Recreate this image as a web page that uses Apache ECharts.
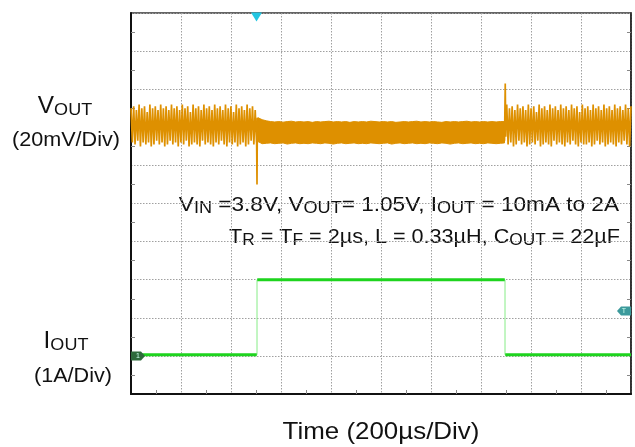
<!DOCTYPE html>
<html>
<head>
<meta charset="utf-8">
<script src="https://cdn.jsdelivr.net/npm/echarts@6/dist/echarts.min.js"></script>
<style>
  html, body { margin: 0; padding: 0; background: #fff; }
  #main { width: 635px; height: 447px; }
</style>
</head>
<body>
<div id="main"></div>
<script>
// time axis in us (200 us/div, 10 div)
var timeTicks = [0, 200, 400, 600, 800, 1000, 1200, 1400, 1600, 1800, 2000];

// VOUT ripple in mV (20 mV/div), light load, scope samples every 5.4 us
var rippleDt = 5.4;
var light1Start = 0;
var light1 = [
  10, -8, 11, -9, 9, -7, 12, -10, 10, -8, 11, -9, 8, -8, 12, -10, 10, -9, 11, -7,
  9, -9, 12, -8, 10, -10, 11, -9, 9, -7, 12, -9, 10, -8, 11, -10, 9, -8, 12, -9,
  10, -7, 11, -10, 8, -9, 12, -8, 10, -9, 11, -10, 9, -7, 12, -9, 10, -8, 11, -9,
  9, -10, 12, -8, 10, -9, 11, -7, 9, -9, 12, -10, 10, -8, 11, -9, 8, -8, 12, -10,
  10, -9, 11, -8, 9, -10, 12, -9, 10, -7, 11, -9, 9, -8
];
var light2Start = 1503;
var light2 = [
  12, -9, 10, -8, 11, -10, 9, -9, 12, -7, 10, -9, 11, -8, 9, -10, 12, -9, 10, -8,
  11, -9, 8, -7, 12, -10, 10, -9, 11, -8, 9, -9, 12, -10, 10, -7, 11, -9, 9, -8,
  12, -9, 10, -10, 11, -8, 9, -9, 12, -7, 10, -9, 11, -10, 8, -8, 12, -9, 10, -9,
  11, -8, 9, -10, 12, -9, 10, -7, 11, -9, 9, -8, 12, -10, 10, -9, 11, -8, 9, -9,
  12, -10, 10, -8, 11, -9, 9, -7, 12, -9, 10, -10, 11
];

// load step transients [us, mV]
var stepUp = [[502.5, -6], [504, -30], [505.5, 5], [508, 4]];
var stepDown = [[1494, -7], [1497, 23], [1499, -5], [1501, 10], [1503, 12]];

// heavy load band (PWM ripple), upper / lower envelope in mV
var bandStart = 508, bandEnd = 1494;
var bandUpper = [
  5, 4, 3.4, 3, 2.8, 3, 2.7, 3, 3.2, 2.8,
  3, 2.8, 3, 2.6, 3, 2.8, 3, 3.2, 2.8, 3,
  2.8, 3, 2.6, 3, 2.8, 3, 2.8, 3.2, 3, 2.8,
  3, 2.8, 3, 2.6, 2.8, 3, 2.8, 3, 3.2, 2.8,
  3, 2.8, 3, 2.8, 2.6, 3, 2.8, 3, 2.8, 3,
  3.2, 2.8, 3, 2.8, 3, 2.8, 3, 2.8, 3, 3
];
var bandLower = [
  -7.5, -8.6, -8.4, -8.2, -8.6, -8.4, -8.2, -8.8, -8.4, -8.2,
  -8.6, -8.4, -8.6, -8.2, -8.4, -8.6, -8.2, -8.4, -8.8, -8.4,
  -8.2, -8.6, -8.4, -8.2, -8.6, -8.4, -8.6, -8.2, -8.4, -8.6,
  -8.4, -8.2, -8.8, -8.4, -8.2, -8.6, -8.4, -8.2, -8.6, -8.4,
  -8.6, -8.2, -8.4, -8.6, -8.2, -8.4, -8.8, -8.4, -8.2, -8.6,
  -8.4, -8.2, -8.6, -8.4, -8.6, -8.2, -8.4, -8.6, -8.4, -8.2
];

// IOUT in A (1 A/div): 10 mA -> 2 A -> 10 mA
var iEdges = [504, 1496];
var iLevels = [0.03, 2.0, 0.03];
var trigLevel = 1.18;

var ORANGE = '#de9000';
var GREEN = '#1ed41e';
var FONT = 'Liberation Sans, Arial, sans-serif';

function samples(vals, t0) {
  var out = [];
  for (var i = 0; i < vals.length; i++) out.push([t0 + i * rippleDt, vals[i]]);
  return out;
}

var voutLine = samples(light1, light1Start).concat(stepUp);
var voutLine2 = stepDown.concat(samples(light2, light2Start));

var bandData = [];
for (var k = 0; k < bandUpper.length; k++) {
  var t = bandStart + k * (bandEnd - bandStart) / (bandUpper.length - 1);
  bandData.push([t, bandUpper[k], bandLower[k]]);
}

var iStep = [[timeTicks[0], iLevels[0]], [iEdges[0], iLevels[0]], [iEdges[0], iLevels[1]],
             [iEdges[1], iLevels[1]], [iEdges[1], iLevels[2]], [timeTicks[10], iLevels[2]]];
var iFlat = [[timeTicks[0], iLevels[0]], [iEdges[0] - 1, iLevels[0]], '-',
             [iEdges[0] + 1, iLevels[1]], [iEdges[1] - 1, iLevels[1]], '-',
             [iEdges[1] + 1, iLevels[2]], [timeTicks[10], iLevels[2]]];

var myChart = echarts.init(document.getElementById('main'));

var INK = '#111';
function rich(mainSize, subSize, pad, lh) {
  return {
    m: { fontSize: mainSize, fontFamily: FONT, fill: INK, lineHeight: lh, verticalAlign: 'top' },
    s: { fontSize: subSize, fontFamily: FONT, fill: INK, lineHeight: lh, verticalAlign: 'top', padding: [pad, 0, 0, 0] }
  };
}

var gridLine = { show: true, lineStyle: { color: '#a0a0a0', width: 1, type: [1.5, 1.5] } };
var minor = { show: true, splitNumber: 2, length: 4, lineStyle: { color: '#888' } };

var option = {
  animation: false,
  backgroundColor: '#fff',
  grid: { left: 131, top: 13, right: 4, bottom: 53, show: true, borderColor: '#333', borderWidth: 1.5 },
  xAxis: {
    type: 'value', min: 0, max: 2000, interval: 200,
    axisLabel: { show: false },
    axisTick: { show: false, inside: true },
    minorTick: minor,
    axisLine: { show: true, onZero: false, lineStyle: { color: INK, width: 2 } },
    splitLine: gridLine
  },
  yAxis: [{
    type: 'value', min: -140, max: 60, interval: 20,
    axisLabel: { show: false },
    axisTick: { show: false, inside: true },
    minorTick: minor,
    axisLine: { show: true, onZero: false, lineStyle: { color: INK, width: 2 } },
    splitLine: gridLine
  }, {
    type: 'value', min: -1, max: 9, interval: 1, position: 'right',
    axisLabel: { show: false },
    axisTick: { show: false, inside: true },
    minorTick: minor,
    axisLine: { show: true, onZero: false, lineStyle: { color: '#222', width: 1.5 } },
    splitLine: { show: false }
  }],
  series: [
    {
      name: 'IOUT edges', type: 'line', yAxisIndex: 1, data: iStep, symbol: 'none',
      lineStyle: { color: '#86ec86', width: 1 }, z: 3,
      markPoint: {
        silent: true,
        label: { show: true, fontSize: 7, color: '#cfe', fontFamily: FONT },
        data: [
          { coord: [timeTicks[0], 0], value: '1', symbol: 'path://M0,0 L10,0 L14,4.5 L10,9 L0,9 Z',
            symbolSize: [14, 9], symbolOffset: [7, 0], itemStyle: { color: '#2e6a3c' } },
          { coord: [timeTicks[10], trigLevel], value: 'T', symbol: 'path://M4,0 L14,0 L14,9 L4,9 L0,4.5 Z',
            symbolSize: [14, 9], symbolOffset: [-7, 0], itemStyle: { color: '#3c9a9c' } }
        ]
      }
    },
    {
      name: 'IOUT', type: 'line', yAxisIndex: 1, data: iFlat, symbol: 'none', connectNulls: false,
      lineStyle: { color: GREEN, width: 3 }, z: 4
    },
    {
      name: 'VOUT band', type: 'custom', data: bandData, z: 5,
      encode: { x: 0, y: [1, 2] },
      renderItem: function (params, api) {
        if (params.dataIndex !== 0) return;
        var pts = [];
        for (var i = 0; i < bandData.length; i++) pts.push(api.coord([bandData[i][0], bandData[i][1]]));
        for (var j = bandData.length - 1; j >= 0; j--) pts.push(api.coord([bandData[j][0], bandData[j][2]]));
        return { type: 'polygon', shape: { points: pts }, style: { fill: ORANGE, stroke: ORANGE, lineWidth: 1 } };
      }
    },
    {
      name: 'VOUT', type: 'line', data: voutLine, symbol: 'none',
      lineStyle: { color: ORANGE, width: 1.7 }, z: 6,
      markPoint: {
        silent: true,
        data: [{ coord: [502, 60], symbol: 'triangle', symbolRotate: 180, symbolSize: [11, 9],
                 symbolOffset: [0, 4], itemStyle: { color: '#22c6e2' }, label: { show: false } }]
      }
    },
    {
      name: 'VOUT 2', type: 'line', data: voutLine2, symbol: 'none',
      lineStyle: { color: ORANGE, width: 1.7 }, z: 6
    }
  ],
  graphic: [
    { type: 'text', x: 65, y: 95, scaleX: 1.06, style: { text: '{m|V}{s|OUT}', align: 'center', rich: rich(23, 17, 7, 26) } },
    { type: 'text', x: 66, y: 140, scaleX: 1.08, style: { text: '(20mV/Div)', align: 'center', verticalAlign: 'middle',
      font: '20px ' + FONT, fill: INK } },
    { type: 'text', x: 66, y: 330, scaleX: 1.06, style: { text: '{m|I}{s|OUT}', align: 'center', rich: rich(23, 17, 7, 26) } },
    { type: 'text', x: 73, y: 376, scaleX: 1.08, style: { text: '(1A/Div)', align: 'center', verticalAlign: 'middle',
      font: '20px ' + FONT, fill: INK } },
    { type: 'text', x: 619, y: 195, scaleX: 1.13, style: { align: 'right', rich: rich(20, 16, 6, 24),
      text: '{m|V}{s|IN}{m| =3.8V, V}{s|OUT}{m|= 1.05V, I}{s|OUT}{m| = 10mA to 2A}' } },
    { type: 'text', x: 620, y: 227, scaleX: 1.08, style: { align: 'right', rich: rich(20, 16, 6, 24),
      text: '{m|T}{s|R}{m| = T}{s|F}{m| = 2\u00b5s, L = 0.33\u00b5H, C}{s|OUT}{m| = 22\u00b5F}' } },
    { type: 'text', x: 381, y: 432, scaleX: 1.08, style: { text: 'Time (200\u00b5s/Div)', align: 'center', verticalAlign: 'middle',
      font: '24px ' + FONT, fill: INK } }
  ]
};

myChart.setOption(option);
</script>
</body>
</html>
